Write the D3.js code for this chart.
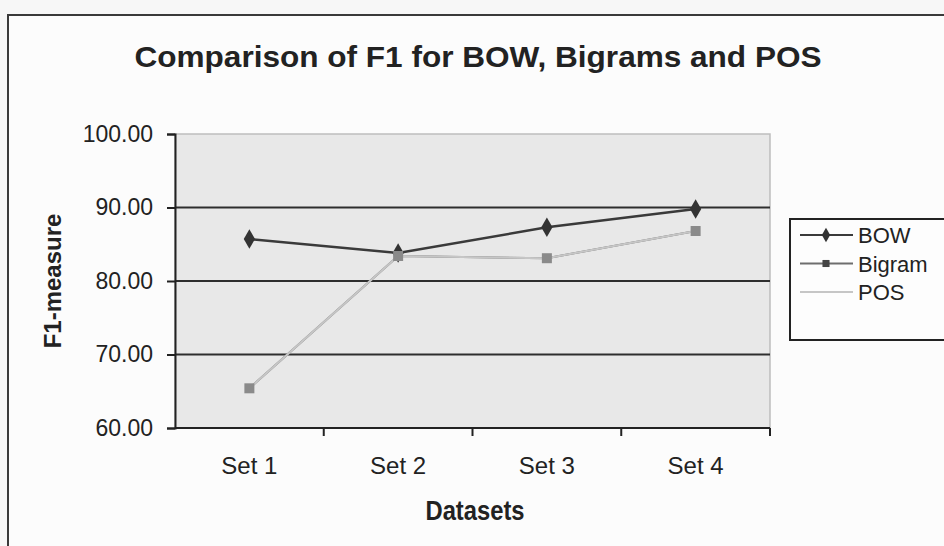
<!DOCTYPE html>
<html>
<head>
<meta charset="utf-8">
<script src="https://cdn.jsdelivr.net/npm/d3@7"></script>
<style>
  body { margin: 0; background: #f7f7f7; }
  text { font-family: "Liberation Sans", Arial, sans-serif; fill: #222; }
  .title { font-weight: bold; }
  .axtitle { font-weight: bold; }
</style>
</head>
<body>
<div id="chart"></div>
<script>
// data
var datasets = ["Set 1", "Set 2", "Set 3", "Set 4"];
var bow    = [85.7, 83.8, 87.3, 89.8];
var bigram = [65.4, 83.4, 83.1, 86.8];
var pos    = [65.4, 83.4, 83.1, 86.8];
var yTicks = [60, 70, 80, 90, 100];

var series = [
  {name: "BOW",    values: bow,    line: "#3a3a3a", mark: "#333",    shape: "diamond"},
  {name: "Bigram", values: bigram, line: "#6e6e6e", mark: "#8a8a8a", shape: "square"},
  {name: "POS",    values: pos,    line: "#c6c6c6", mark: null,      shape: null}
];

var W = 944, H = 546;
var svg = d3.select("#chart").append("svg").attr("width", W).attr("height", H);

// outer chart frame (cut off on the right and bottom)
svg.append("rect").attr("x", 8).attr("y", 15).attr("width", 960).attr("height", 560)
  .attr("fill", "#fcfcfc").attr("stroke", "#3a3a3a").attr("stroke-width", 2);

var x = d3.scaleBand().domain(datasets).range([175, 770]).padding(0);
var y = d3.scaleLinear().domain([60, 100]).range([428, 134]);

// plot area
svg.append("rect").attr("x", 175).attr("y", 134).attr("width", 595).attr("height", 294)
  .attr("fill", "#e8e8e8").attr("stroke", "#bdbdbd").attr("stroke-width", 1.5);

// gridlines
svg.selectAll(".grid").data(yTicks.filter(function(d){ return d > 60 && d < 100; }))
  .enter().append("line")
  .attr("x1", 175).attr("x2", 770)
  .attr("y1", function(d){ return y(d); }).attr("y2", function(d){ return y(d); })
  .attr("stroke", "#2e2e2e").attr("stroke-width", 2);

// y axis
var yAxis = svg.append("g").attr("transform", "translate(175,0)")
  .call(d3.axisLeft(y).tickValues(yTicks).tickSize(8).tickPadding(14)
    .tickFormat(d3.format(".2f")));
yAxis.select(".domain").attr("stroke", "#222").attr("stroke-width", 2);
yAxis.selectAll(".tick line").attr("stroke", "#222").attr("stroke-width", 2);
yAxis.selectAll("text").style("font-size", "23px").attr("fill", "#2a2a2a")
  .style("font-family", "Liberation Sans, Arial, sans-serif");

// x axis: line, ticks between categories, labels under centers
svg.append("line").attr("x1", 175).attr("x2", 770).attr("y1", 428).attr("y2", 428)
  .attr("stroke", "#222").attr("stroke-width", 2);
var bounds = datasets.map(function(d){ return x(d) + x.bandwidth(); });
svg.selectAll(".xtick").data(bounds).enter().append("line")
  .attr("x1", function(d){ return d; }).attr("x2", function(d){ return d; })
  .attr("y1", 428).attr("y2", 436).attr("stroke", "#222").attr("stroke-width", 2);
svg.selectAll(".xlab").data(datasets).enter().append("text")
  .attr("x", function(d){ return x(d) + x.bandwidth() / 2; })
  .attr("y", 474).attr("text-anchor", "middle")
  .style("font-size", "24px").attr("fill", "#2a2a2a")
  .text(function(d){ return d; });

// lines
var line = d3.line()
  .x(function(d, i){ return x(datasets[i]) + x.bandwidth() / 2; })
  .y(function(d){ return y(d); });

// draw Bigram first, POS over it, BOW last
[series[1], series[2], series[0]].forEach(function(s){
  svg.append("path").datum(s.values).attr("d", line)
    .attr("fill", "none").attr("stroke", s.line)
    .attr("stroke-width", s.name === "BOW" ? 2.5 : 2);
});

// markers
series.forEach(function(s){
  if (!s.shape) return;
  var sym = s.shape === "diamond" ? d3.symbolDiamond : d3.symbolSquare;
  svg.selectAll(".m-" + s.name).data(s.values).enter().append("path")
    .attr("d", d3.symbol().type(sym).size(s.shape === "diamond" ? 110 : 100))
    .attr("transform", function(d, i){
      return "translate(" + (x(datasets[i]) + x.bandwidth() / 2) + "," + y(d) + ")";
    })
    .attr("fill", s.mark);
});

// title
svg.append("text").attr("class", "title").attr("x", 478).attr("y", 67)
  .attr("text-anchor", "middle").style("font-size", "30px")
  .attr("textLength", 687).attr("lengthAdjust", "spacingAndGlyphs")
  .text("Comparison of F1 for BOW, Bigrams and POS");

// axis titles
svg.append("text").attr("class", "axtitle")
  .attr("transform", "translate(61,281) rotate(-90)")
  .attr("text-anchor", "middle").style("font-size", "24px")
  .text("F1-measure");
svg.append("text").attr("class", "axtitle").attr("x", 475).attr("y", 520)
  .attr("text-anchor", "middle").style("font-size", "27px")
  .attr("textLength", 99).attr("lengthAdjust", "spacingAndGlyphs")
  .text("Datasets");

// legend
var lg = svg.append("g");
lg.append("rect").attr("x", 790).attr("y", 219).attr("width", 170).attr("height", 121)
  .attr("fill", "#fdfdfd").attr("stroke", "#222").attr("stroke-width", 2);
var rows = lg.selectAll(".row").data(series).enter().append("g")
  .attr("transform", function(d, i){ return "translate(0," + (235 + i * 28.5) + ")"; });
rows.append("line").attr("x1", 800).attr("x2", 853).attr("y1", 0).attr("y2", 0)
  .attr("stroke", function(d){ return d.line; }).attr("stroke-width", 2);
rows.filter(function(d){ return d.shape; }).append("path")
  .attr("d", function(d){
    return d3.symbol().type(d.shape === "diamond" ? d3.symbolDiamond : d3.symbolSquare)
      .size(d.shape === "diamond" ? 60 : 50)();
  })
  .attr("transform", "translate(826,0)")
  .attr("fill", function(d){ return d.shape === "square" ? "#444" : d.mark; });
rows.append("text").attr("x", 858).attr("y", 8)
  .style("font-size", "22px").attr("fill", "#2a2a2a")
  .text(function(d){ return d.name; });
</script>
</body>
</html>
